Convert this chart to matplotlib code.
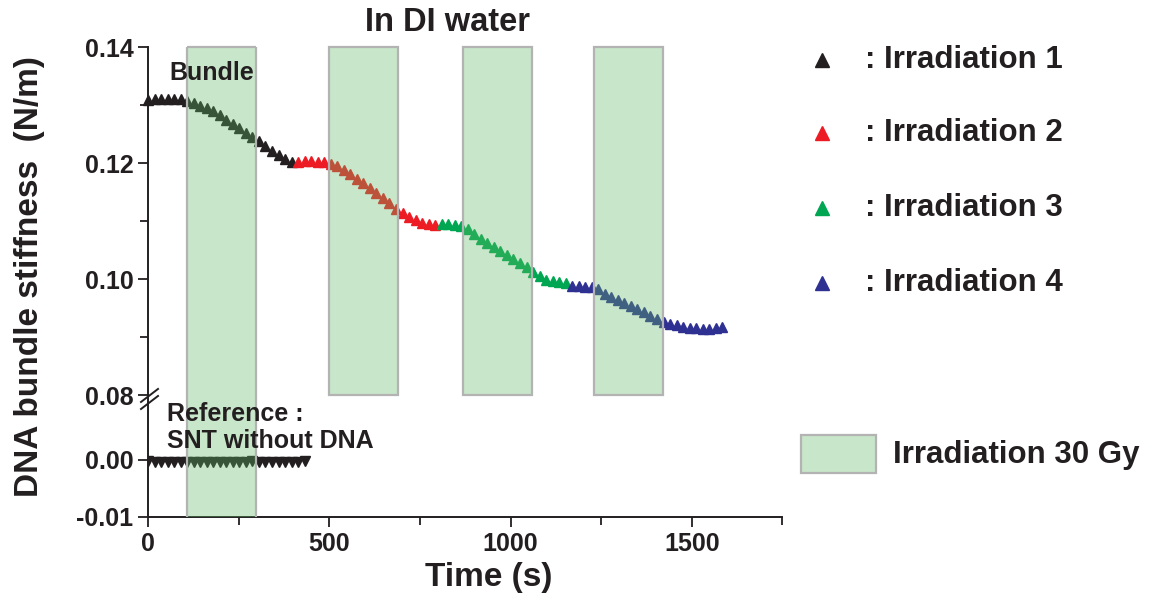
import matplotlib
matplotlib.use('Agg')
import matplotlib.pyplot as plt
from matplotlib.lines import Line2D
from matplotlib.patches import Rectangle

plt.rcParams['font.family'] = ['Liberation Sans', 'DejaVu Sans']
plt.rcParams['font.weight'] = 'bold'
plt.rcParams['axes.unicode_minus'] = False

# --- data ---
# irradiation 1 (black)
t1 = [0, 18, 36, 54, 72, 90, 108, 126, 144, 162, 180, 198, 216, 234, 252, 270,
      288, 306, 324, 342, 360, 378, 396]
k1 = [0.1309, 0.1310, 0.1310, 0.1310, 0.1311, 0.1310, 0.1307, 0.1303, 0.1299,
      0.1294, 0.1289, 0.1282, 0.1275, 0.1268, 0.1260, 0.1252, 0.1245, 0.1238,
      0.1230, 0.1221, 0.1214, 0.1207, 0.1201]
# irradiation 2 (red)
t2 = [414, 432, 450, 468, 486, 504, 522, 540, 558, 576, 594, 612, 630, 648, 666,
      684, 702, 720, 738, 756, 774, 792]
k2 = [0.1202, 0.1203, 0.1203, 0.1202, 0.1201, 0.1198, 0.1194, 0.1188, 0.1181,
      0.1173, 0.1165, 0.1157, 0.1149, 0.1140, 0.1131, 0.1121, 0.1113, 0.1107,
      0.1101, 0.1097, 0.1094, 0.1093]
# irradiation 3 (green)
t3 = [810, 828, 846, 864, 882, 900, 918, 936, 954, 972, 990, 1008, 1026, 1044,
      1062, 1080, 1098, 1116, 1134, 1152]
k3 = [0.1094, 0.1094, 0.1093, 0.1092, 0.1087, 0.1078, 0.1069, 0.1062, 0.1055,
      0.1048, 0.1041, 0.1034, 0.1027, 0.1020, 0.1012, 0.1005, 0.0999, 0.0996,
      0.0994, 0.0993]
# irradiation 4 (blue)
t4 = [1170, 1188, 1206, 1224, 1242, 1260, 1278, 1296, 1314, 1332, 1350, 1368,
      1386, 1404, 1422, 1440, 1458, 1476, 1494, 1512, 1530, 1548, 1566, 1584]
k4 = [0.0988, 0.0988, 0.0987, 0.0986, 0.0982, 0.0975, 0.0969, 0.0963, 0.0959,
      0.0954, 0.0949, 0.0943, 0.0937, 0.0931, 0.0926, 0.0923, 0.0920, 0.0918,
      0.0916, 0.0915, 0.0914, 0.0914, 0.0915, 0.0917]
# reference: SNT without DNA
t_ref = [0, 18, 36, 54, 72, 90, 108, 126, 144, 162, 180, 198, 216, 234, 252,
         270, 288, 306, 324, 342, 360, 378, 396, 414, 432]
k_ref = [-0.0002, -0.0003, -0.0003, -0.0004, -0.0003, -0.0003, -0.0004, -0.0003,
         -0.0003, -0.0004, -0.0003, -0.0003, -0.0003, -0.0004, -0.0003, -0.0003,
         -0.0002, -0.0003, -0.0003, -0.0003, -0.0004, -0.0003, -0.0003, -0.0003,
         -0.0002]
# irradiation periods (s)
irr_start = [107, 500, 868, 1231]
irr_end = [298, 690, 1060, 1421]

series_labels = [': Irradiation 1', ': Irradiation 2', ': Irradiation 3', ': Irradiation 4']
colors = ['#231f20', '#ed1c24', '#00a651', '#2e3192']

box_face = (98 / 255, 184 / 255, 101 / 255, 0.35)
box_edge = '#b3b3b3'
ink = '#231f20'

fig = plt.figure(figsize=(11.5, 5.95), dpi=100)
ax_top = fig.add_axes([0.1287, 0.3361, 0.5517, 0.5849])
ax_bot = fig.add_axes([0.1287, 0.1311, 0.5517, 0.2050], sharex=ax_top)

# data points
for t, k, c in zip([t1, t2, t3, t4], [k1, k2, k3, k4], colors):
    ax_top.plot(t, k, ls='none', marker='^', ms=6.5, color=c, mec=c, zorder=2, clip_on=False)
ax_bot.plot(t_ref, k_ref, ls='none', marker='v', ms=6.5, color=ink, zorder=2)

# irradiation boxes (drawn over the points, translucent)
for i, (a, b) in enumerate(zip(irr_start, irr_end)):
    if i == 0:
        # first box runs down through the break to the x axis
        for ax in (ax_top, ax_bot):
            ax.axvspan(a, b, facecolor=box_face, edgecolor='none', zorder=3)
            ax.axvline(a, color=box_edge, lw=1.6, zorder=3)
            ax.axvline(b, color=box_edge, lw=1.6, zorder=3)
        ax_top.hlines(0.14, a, b, color=box_edge, lw=1.6, zorder=3, clip_on=False)
    else:
        ax_top.axvspan(a, b, facecolor=box_face, edgecolor=box_edge, lw=1.6,
                       zorder=3, clip_on=False)

# axes styling
ax_top.set_ylim(0.08, 0.14)
ax_bot.set_ylim(-0.01, 0.0114)
ax_top.set_xlim(0, 1750)
ax_top.set_yticks([0.08, 0.10, 0.12, 0.14])
ax_top.set_yticks([0.09, 0.11, 0.13], minor=True)
ax_top.set_yticklabels(['0.08', '0.10', '0.12', '0.14'])
ax_bot.set_yticks([-0.01, 0.00])
ax_bot.set_yticklabels(['-0.01', '0.00'])
ax_bot.set_xticks([0, 500, 1000, 1500])
ax_bot.set_xticks([250, 750, 1250, 1750], minor=True)

for ax in (ax_top, ax_bot):
    ax.spines['top'].set_visible(False)
    ax.spines['right'].set_visible(False)
    for s in ax.spines.values():
        s.set_color(ink)
        s.set_linewidth(1.4)
    ax.tick_params(which='both', direction='out', color=ink, width=1.3,
                   labelsize=18, labelcolor=ink)
    ax.tick_params(which='major', length=7)
    ax.tick_params(which='minor', length=6)
    ax.set_facecolor('none')
ax_top.spines['bottom'].set_visible(False)
ax_top.tick_params(axis='x', which='both', bottom=False, labelbottom=False)

# axis break marks
for dy in (0.0, 0.0118):
    fig.add_artist(Line2D([0.1226, 0.1374], [0.3126 + dy, 0.3345 + dy],
                          transform=fig.transFigure, color=ink, lw=1.4))

# annotations
ax_top.text(60, 0.1355, 'Bundle', fontsize=18, color=ink, va='center', ha='left', zorder=5)
ax_bot.text(52, 0.0057, 'Reference :\nSNT without DNA', fontsize=18, color=ink,
            va='center', ha='left', linespacing=1.15, zorder=5)

fig.text(0.389, 0.963, 'In DI water', fontsize=23.5, color=ink, ha='center', va='center')
fig.text(0.425, 0.030, 'Time (s)', fontsize=24, color=ink, ha='center', va='center')
fig.text(0.026, 0.536, 'DNA bundle stiffness  (N/m)', fontsize=24, color=ink,
         ha='center', va='center', rotation=90)

# legend built by hand
row_y = [0.899, 0.776, 0.650, 0.524]
for y, lab, c in zip(row_y, series_labels, colors):
    fig.add_artist(Line2D([0.7148], [y], transform=fig.transFigure, ls='none',
                          marker='^', ms=10, color=c))
    fig.text(0.752, y, lab, fontsize=22.5, color=ink, ha='left', va='center')

fig.add_artist(Rectangle((0.6965, 0.205), 0.0652, 0.0639, transform=fig.transFigure,
                         facecolor=box_face, edgecolor=box_edge, lw=1.6))
fig.text(0.7765, 0.2353, 'Irradiation 30 Gy', fontsize=22.5, color=ink, ha='left', va='center')

fig.savefig('out.png', dpi=100)
